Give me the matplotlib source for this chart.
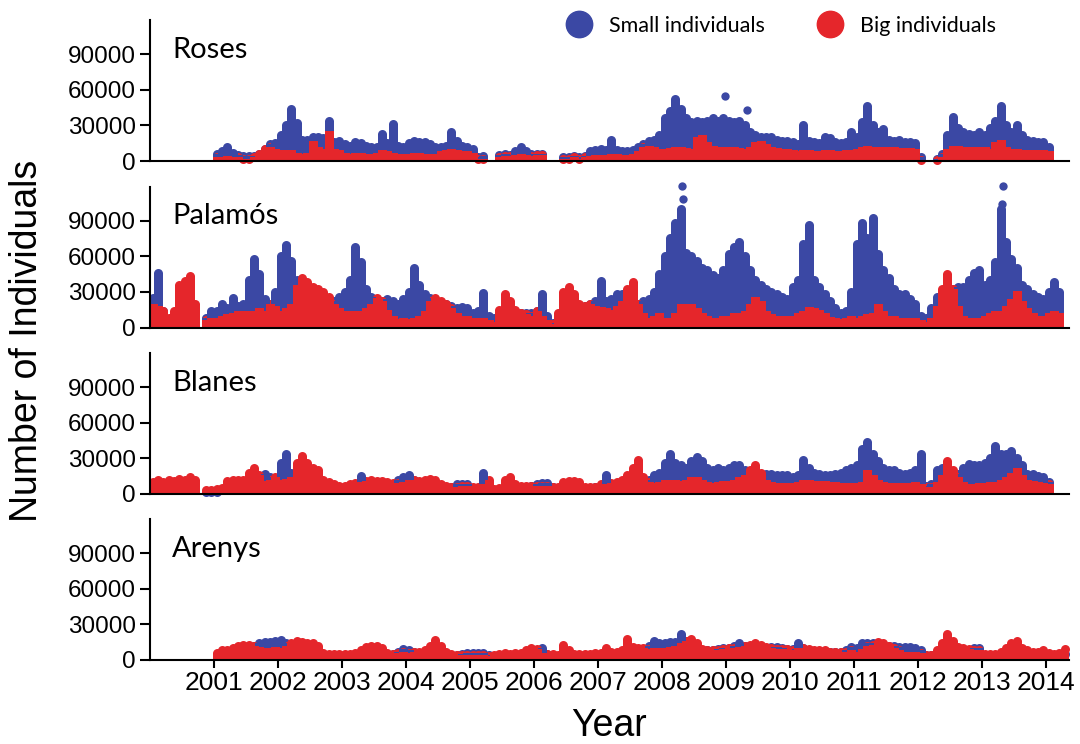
import numpy as np
import matplotlib.pyplot as plt
from matplotlib.lines import Line2D

plt.rcParams['font.family'] = ['Liberation Sans', 'DejaVu Sans']

N = None

# monthly catch (thousands of individuals), Jan 2000 onwards, one row per year
roses_small = [
    N, N, N, N, N, N, N, N, N, N, N, N,
    6, 8, 12, 7, 5, 4, 4, 4, 6, 10, 14, 15,
    22, 30, 44, 32, 18, 18, 20, 20, 19, 34, 16, 17,
    14, 13, 16, 15, 13, 12, 12, 23, 15, 31, 13, 12,
    15, 17, 16, 16, 14, 12, 12, 13, 24, 17, 13, 12,
    10, 3, 4, N, N, 5, 6, 5, 8, 12, 8, 6,
    6, 6, N, N, N, 3, 3, 4, 3, 4, 8, 9,
    10, 9, 18, 9, 8, 8, 9, 12, 14, 17, 18, 22,
    36, 42, 52, 44, 36, 33, 34, 33, 34, 36, 34, 36,
    34, 33, 34, 30, 24, 22, 20, 20, 20, 18, 17, 17,
    16, 14, 30, 17, 16, 15, 20, 19, 16, 15, 16, 24,
    20, 33, 46, 30, 24, 27, 18, 17, 18, 16, 16, 15,
    3, N, N, 2, 6, 22, 37, 28, 24, 23, 22, 24,
    22, 28, 34, 46, 30, 24, 30, 22, 18, 17, 16, 16,
    12,
]
roses_big = [
    N, N, N, N, N, N, N, N, N, N, N, N,
    3, 3, 4, 3, 3, 2, 2, 3, 6, 10, 12, 10,
    9, 9, 9, 7, 6, 7, 17, 12, 10, 25, 10, 9,
    7, 6, 7, 7, 6, 6, 7, 9, 8, 7, 6, 6,
    6, 7, 7, 6, 6, 6, 8, 9, 10, 9, 8, 8,
    7, 2, 2, N, N, 3, 4, 4, 5, 6, 5, 4,
    5, 5, N, N, N, 2, 2, 3, 2, 3, 4, 5,
    5, 5, 6, 6, 5, 5, 6, 8, 12, 13, 12, 10,
    10, 11, 12, 12, 11, 10, 20, 22, 16, 13, 12, 12,
    12, 12, 11, 10, 12, 16, 17, 14, 12, 11, 10, 10,
    9, 8, 9, 9, 8, 8, 9, 9, 8, 8, 9, 9,
    10, 12, 13, 12, 12, 12, 12, 12, 11, 11, 11, 10,
    1, N, N, 1, 3, 10, 13, 13, 12, 12, 12, 12,
    12, 10, 16, 18, 12, 10, 10, 9, 9, 9, 9, 9,
    8,
]

palamos_small = [
    25, 46, 14, 6, 8, 10, 12, 12, 18, N, 8, 14,
    14, 20, 16, 25, 18, 20, 40, 58, 45, 24, 20, 30,
    60, 69, 56, 40, 32, 26, 28, 26, 24, 22, 22, 26,
    30, 40, 68, 55, 32, 26, 24, 22, 24, 22, 20, 24,
    30, 50, 36, 28, 25, 22, 20, 20, 18, 16, 17, 16,
    12, 14, 29, 10, 8, 8, 10, 12, 12, 12, 12, 12,
    14, 28, 10, 4, 8, 12, 12, 12, 14, 18, 20, 22,
    39, 22, 24, 28, 28, 26, 22, 20, 22, 24, 30, 45,
    60, 75, 88, 100, 63, 60, 56, 50, 48, 44, 42, 48,
    62, 68, 72, 60, 48, 40, 36, 32, 30, 28, 26, 24,
    34, 40, 70, 86, 40, 34, 28, 22, 16, 12, 14, 30,
    70, 88, 75, 92, 62, 48, 42, 32, 28, 28, 24, 20,
    10, 8, 16, 26, 30, 34, 32, 34, 34, 40, 46, 48,
    36, 40, 55, 100, 72, 58, 50, 36, 32, 28, 26, 24,
    30, 38, 30,
]
palamos_big = [
    20, 18, 14, 8, 14, 36, 39, 43, 20, N, 6, 8,
    8, 10, 11, 12, 14, 14, 14, 14, 16, 14, 20, 18,
    14, 16, 20, 36, 42, 38, 34, 32, 30, 26, 20, 16,
    14, 14, 14, 14, 16, 20, 25, 22, 15, 10, 7, 8,
    7, 8, 10, 14, 22, 25, 22, 20, 16, 12, 10, 10,
    8, 8, 8, 6, 5, 15, 28, 22, 15, 12, 11, 10,
    14, 10, 6, 3, 12, 30, 34, 28, 20, 18, 20, 18,
    17, 16, 15, 18, 22, 32, 38, 20, 12, 8, 10, 12,
    8, 8, 12, 20, 20, 20, 16, 12, 10, 8, 8, 10,
    10, 12, 12, 14, 20, 26, 22, 14, 11, 10, 10, 10,
    10, 12, 14, 17, 16, 15, 12, 9, 8, 7, 8, 10,
    8, 10, 11, 12, 20, 14, 10, 10, 8, 8, 8, 8,
    6, 5, 8, 18, 32, 45, 32, 18, 10, 8, 8, 8,
    10, 12, 14, 14, 18, 24, 31, 22, 16, 12, 10, 10,
    12, 14, 12,
]

blanes_small = [
    5, 5, 5, 6, 5, 6, 6, 5, 5, N, 2, 2,
    2, 3, 5, 6, 5, 6, 8, 10, 14, 17, 14, 12,
    26, 34, 18, 10, 16, 12, 10, 8, 8, 7, 6, 6,
    6, 7, 8, 15, 9, 8, 8, 8, 8, 8, 12, 14,
    16, 12, 10, 9, 8, 7, 6, 6, 6, 8, 8, 8,
    5, 5, 18, 6, 3, 4, 6, 7, 6, 6, 6, 7,
    8, 9, 9, 6, 5, 6, 6, 6, 6, 5, 5, 6,
    6, 16, 8, 8, 9, 10, 10, 12, 10, 12, 16, 18,
    26, 34, 26, 24, 22, 28, 31, 28, 22, 20, 22, 20,
    22, 24, 24, 20, 18, 17, 16, 17, 17, 16, 16, 16,
    14, 16, 29, 22, 18, 17, 16, 16, 17, 18, 20, 22,
    24, 38, 44, 34, 28, 22, 20, 20, 18, 17, 18, 20,
    34, 7, 8, 20, 22, 20, 18, 17, 22, 25, 24, 24,
    26, 30, 40, 34, 34, 36, 30, 24, 17, 17, 15, 14,
    10,
]
blanes_big = [
    10, 12, 10, 12, 11, 13, 12, 14, 12, N, 3, 3,
    4, 5, 11, 12, 12, 12, 18, 22, 16, 11, 12, 14,
    12, 13, 14, 26, 32, 26, 22, 20, 12, 10, 8, 7,
    7, 8, 9, 10, 11, 12, 11, 11, 10, 9, 9, 10,
    12, 12, 11, 12, 13, 12, 8, 7, 6, 6, 7, 7,
    6, 6, 8, 12, 4, 5, 12, 14, 8, 7, 7, 7,
    7, 7, 7, 6, 6, 10, 11, 11, 10, 6, 6, 6,
    8, 8, 9, 10, 12, 16, 22, 29, 14, 10, 9, 10,
    12, 12, 12, 11, 12, 14, 14, 12, 10, 9, 10, 11,
    11, 12, 14, 16, 20, 24, 18, 12, 10, 9, 9, 9,
    9, 10, 12, 12, 11, 11, 11, 10, 10, 9, 9, 9,
    9, 10, 20, 16, 12, 10, 9, 9, 9, 9, 9, 10,
    8, 6, 6, 10, 16, 28, 20, 14, 10, 8, 8, 9,
    9, 10, 10, 12, 14, 18, 22, 16, 12, 11, 10, 9,
    8,
]

arenys_small = [
    N, N, N, N, N, N, N, N, N, N, N, N,
    4, 5, 5, 6, 8, 10, 10, 12, 14, 15, 15, 16,
    17, 14, 10, 8, 8, 8, 8, 8, 5, 4, 4, 4,
    4, 4, 4, 5, 6, 7, 7, 6, 5, 5, 7, 9,
    8, 7, 6, 6, 6, 6, 6, 5, 4, 4, 5, 6,
    6, 6, 6, 4, 3, 4, 4, 4, 4, 5, 5, 6,
    6, 10, 5, 4, 3, 4, 4, 4, 4, 4, 4, 5,
    4, 5, 5, 5, 6, 8, 8, 8, 9, 12, 16, 14,
    14, 15, 15, 22, 16, 12, 10, 8, 8, 8, 9, 10,
    10, 12, 14, 12, 10, 10, 10, 10, 11, 11, 10, 9,
    9, 14, 10, 8, 7, 7, 7, 7, 7, 7, 8, 11,
    10, 14, 14, 14, 13, 12, 12, 12, 11, 11, 11, 10,
    8, 4, 4, 6, 10, 12, 9, 8, 8, 8, 10, 10,
    4, 4, 4, 5, 6, 8, 8, 6, 5, 5, 5, 6,
    4, 4, 4, 5,
]
arenys_big = [
    N, N, N, N, N, N, N, N, N, N, N, N,
    6, 8, 8, 10, 12, 13, 13, 12, 11, 10, 10, 11,
    10, 12, 14, 16, 15, 14, 14, 12, 6, 5, 5, 5,
    5, 5, 6, 8, 11, 12, 12, 10, 6, 5, 6, 7,
    6, 7, 7, 8, 12, 17, 12, 7, 5, 4, 4, 4,
    4, 4, 4, 3, 4, 5, 6, 5, 6, 6, 8, 10,
    9, 6, 5, 5, 4, 13, 8, 5, 5, 5, 5, 6,
    6, 10, 7, 7, 8, 18, 11, 10, 10, 9, 10, 10,
    10, 11, 12, 14, 16, 18, 14, 9, 8, 8, 8, 9,
    10, 10, 11, 12, 13, 14, 13, 11, 10, 9, 9, 9,
    8, 10, 10, 9, 8, 8, 8, 7, 7, 7, 7, 8,
    7, 9, 12, 13, 15, 14, 12, 10, 8, 7, 7, 7,
    6, 4, 4, 8, 14, 22, 16, 11, 10, 9, 8, 8,
    5, 5, 5, 7, 10, 14, 16, 10, 8, 7, 7, 8,
    6, 5, 6, 9,
]

# isolated high counts of small individuals (decimal year, thousands)
roses_peak_year = [2008.98, 2009.33]
roses_peak = [55, 43]
palamos_peak_year = [2008.29, 2008.31, 2008.33, 2013.31, 2013.33]
palamos_peak = [97, 119, 108, 104, 119]

ports = ["Roses", "Palamós", "Blanes", "Arenys"]
small = [roses_small, palamos_small, blanes_small, arenys_small]
big = [roses_big, palamos_big, blanes_big, arenys_big]
peaks = [(roses_peak_year, roses_peak), (palamos_peak_year, palamos_peak), ([], []), ([], [])]

blue = "#3B48A4"
red = "#E5262B"


def monthly(vals):
    v = np.array([np.nan if a is None else a for a in vals], dtype=float) * 1000
    x = 2000 + (np.arange(len(v)) + 0.5) / 12
    ok = ~np.isnan(v)
    return x[ok], v[ok]


def draw(ax, vals, color):
    x, v = monthly(vals)
    ax.vlines(x, 0, v, color=color, lw=5.2, antialiased=False)
    ax.scatter(x, v, s=42, color=color, lw=0, clip_on=False)


fig = plt.figure(figsize=(10.8, 7.44), dpi=100)
left, width, height = 150 / 1080, 919 / 1080, 141 / 744
zero_px = [161, 327.5, 494, 660]

for i, name in enumerate(ports):
    ax = fig.add_axes([left, 1 - zero_px[i] / 744, width, height])
    draw(ax, small[i], blue)
    py, pv = peaks[i]
    if py:
        ax.scatter(py, np.array(pv) * 1000, s=36, color=blue, lw=0, clip_on=False)
    draw(ax, big[i], red)

    ax.set_xlim(2000, 2014.36)
    ax.set_ylim(0, 118600)
    ax.set_yticks([0, 30000, 60000, 90000])
    ax.set_yticklabels(["0", "30000", "60000", "90000"])
    for s in ["top", "right"]:
        ax.spines[s].set_visible(False)
    for s in ["left", "bottom"]:
        ax.spines[s].set_linewidth(1.5)
        ax.spines[s].set_zorder(3)
    ax.tick_params(axis="y", labelsize=17.5, length=7, width=1.5, pad=3)
    if i == len(ports) - 1:
        years = list(range(2001, 2015))
        ax.set_xticks(years)
        ax.set_xticklabels([str(y) for y in years])
        ax.tick_params(axis="x", labelsize=19, length=6, width=1.5, pad=2)
    else:
        ax.set_xticks([])
    ax.text(0.024, 0.79, name, transform=ax.transAxes, fontsize=21,
            family="Lato", va="center", ha="left")

fig.text(27 / 1080, 1 - 341 / 744, "Number of Individuals", rotation=90,
         fontsize=27, va="center", ha="center")
fig.text(609 / 1080, 1 - 736 / 744, "Year", fontsize=27, va="baseline", ha="center")

handles = [Line2D([], [], ls="", marker="o", ms=19, mfc=blue, mec=blue),
           Line2D([], [], ls="", marker="o", ms=19, mfc=red, mec=red)]
fig.legend(handles, ["Small individuals", "Big individuals"], ncol=2, frameon=False,
           loc="center left", bbox_to_anchor=(549 / 1080, 1 - 26 / 744),
           prop={"family": "Lato", "size": 15.5}, handlelength=1.0,
           handletextpad=0.9, columnspacing=2.5)

fig.savefig("out.png", dpi=100)
